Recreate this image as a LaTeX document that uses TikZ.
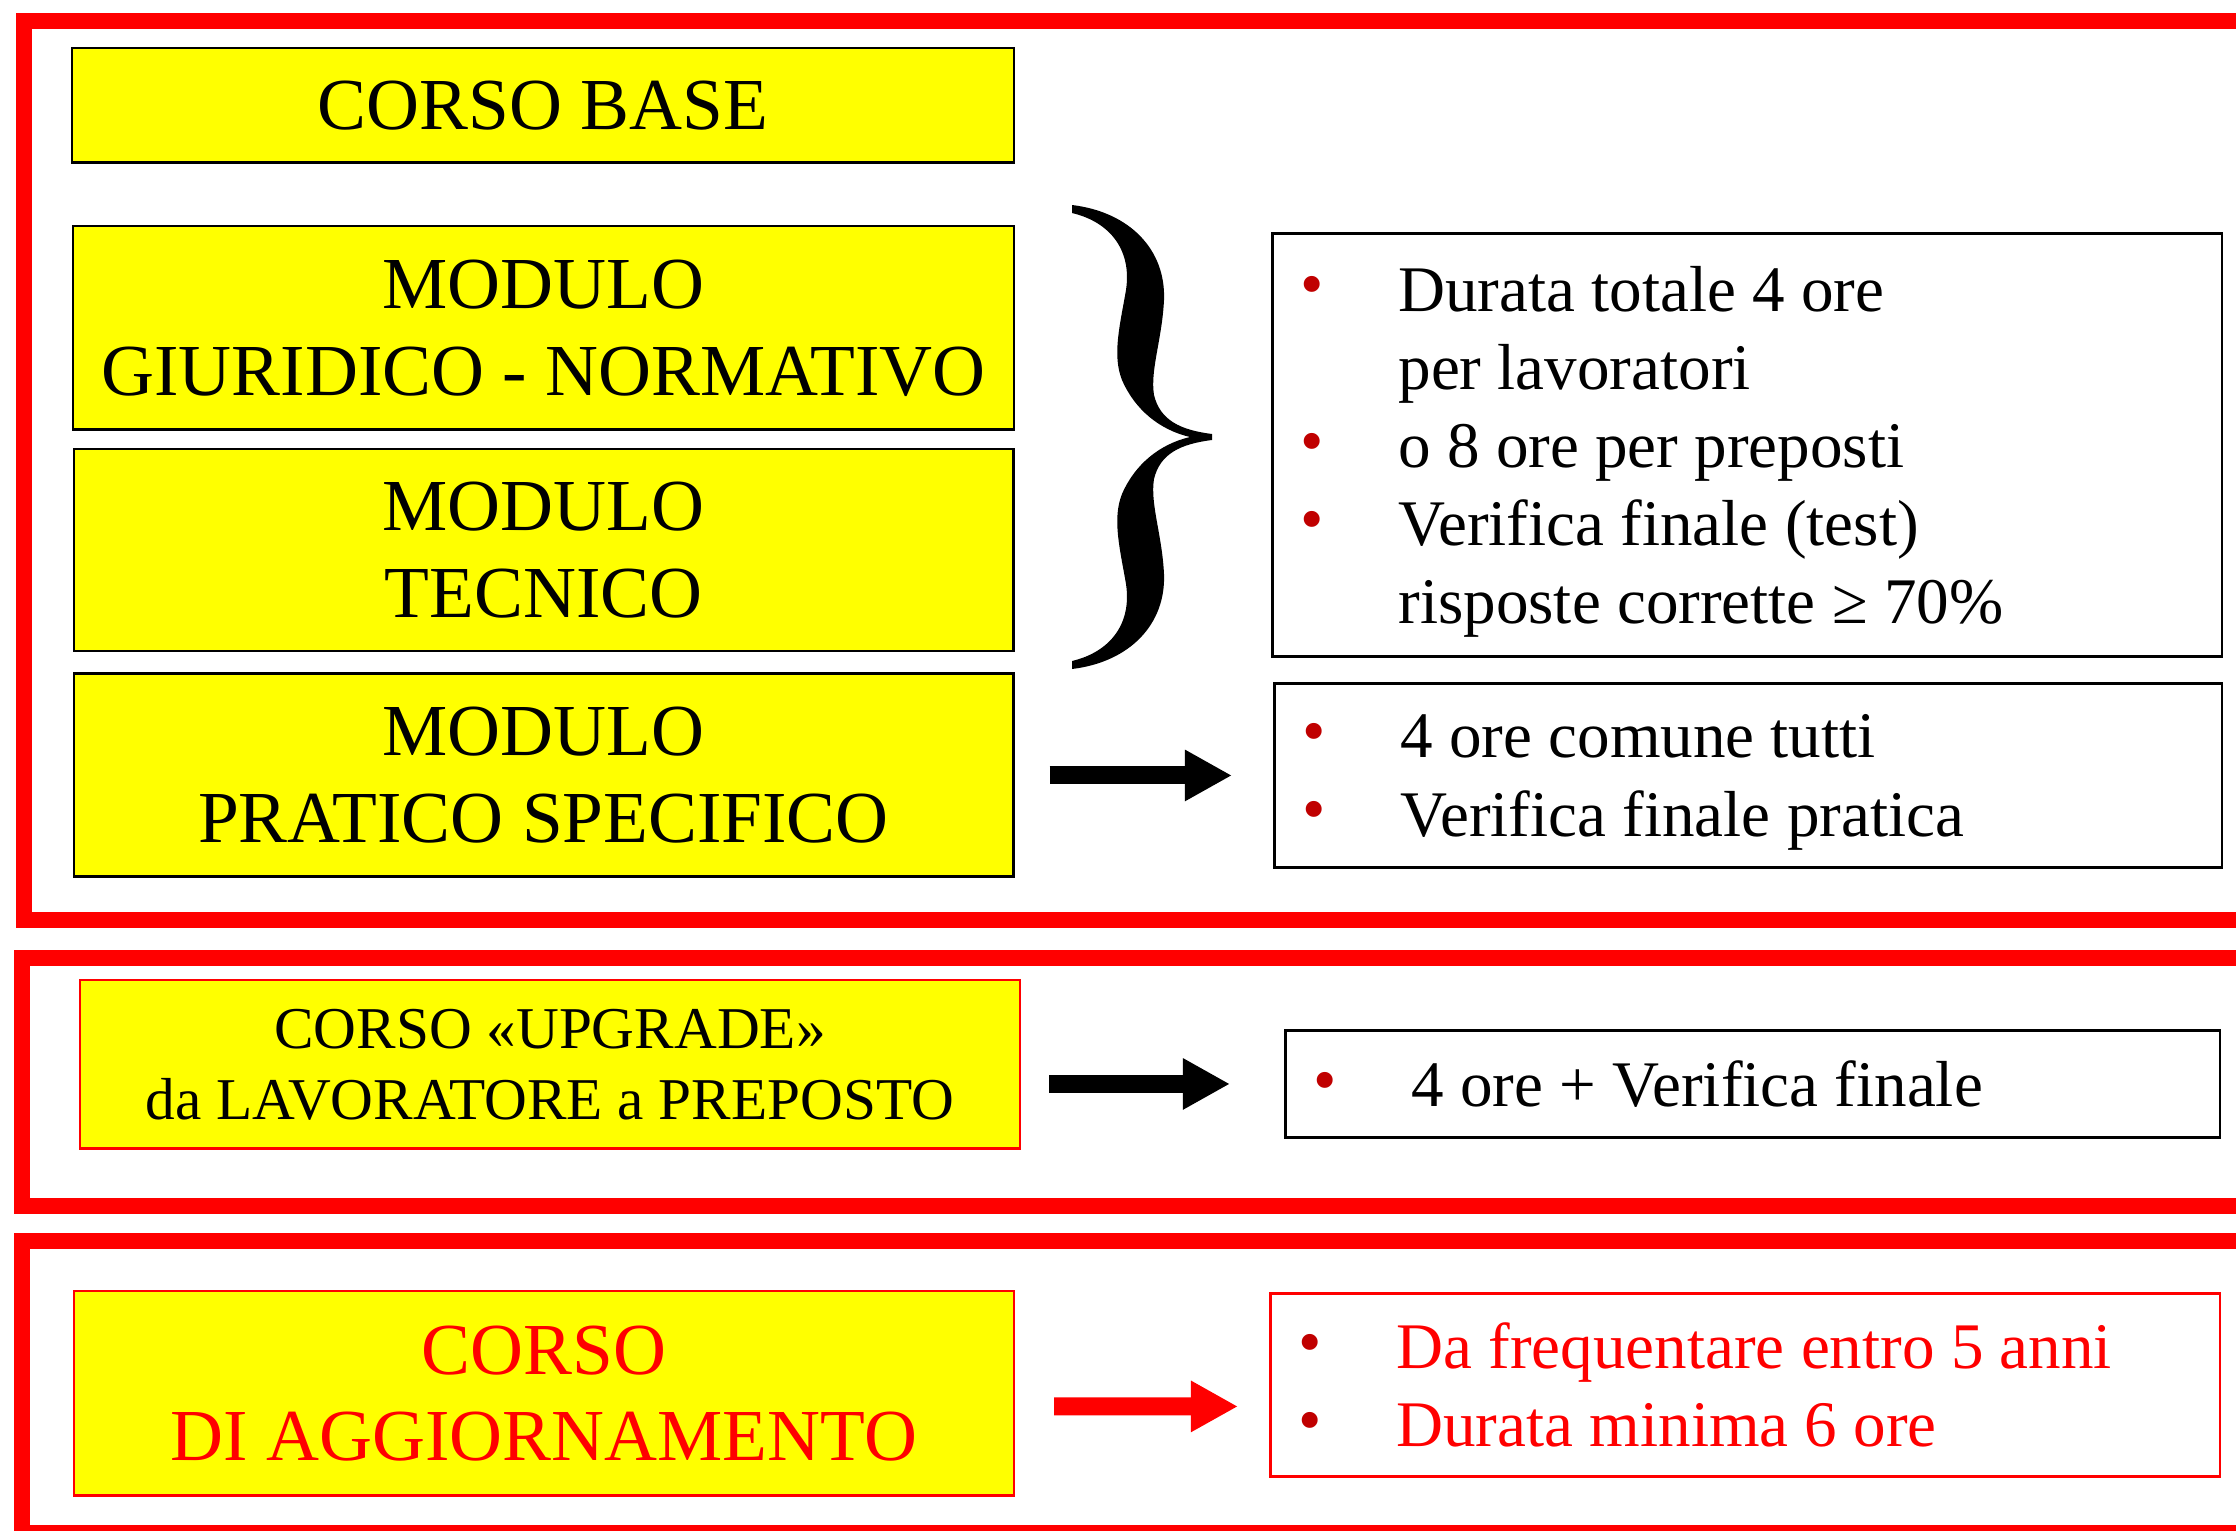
\documentclass[tikz,border=0pt]{standalone}
\usepackage{fontspec}
\setmainfont{Liberation Serif}
\usepackage{tikz}
\usetikzlibrary{positioning, calc, arrows.meta}

\definecolor{boxyellow}{RGB}{255,255,0}
\definecolor{framered}{RGB}{255,0,0}
\definecolor{dotred}{RGB}{192,0,0}

\newcommand{\dotitem}{\makebox[0.98cm][l]{\raisebox{0.045cm}{\textcolor{dotred}{\fontsize{19}{19}\selectfont •}}}}
\newcommand{\noitem}{\hspace*{0.98cm}}

\begin{document}
\begin{tikzpicture}[x=0.01cm,y=-0.01cm,
    frame_line/.style={draw=framered, line width=0.16cm},
    yellow_box/.style={draw=black, fill=boxyellow, line width=0.7pt, anchor=north west,
      align=center, inner sep=0pt, text depth=0pt, font=\fontsize{20.85}{24.6}\selectfont},
    list_box/.style={draw=black, line width=0.8pt, anchor=north west, align=flush left,
      inner xsep=0.28cm, inner ysep=0pt, font=\fontsize{18.5}{22.2}\selectfont},
    block_arrow/.style={line width=0.18cm, -{Triangle[length=0.47cm,width=0.48cm]}}]
      \useasboundingbox (0,0) rectangle (2236,1530);
      \clip (0,0) rectangle (2236,1530);

      % red frames
      \draw[frame_line] (24,21) rectangle (2300,920);
      \draw[frame_line] (22,958) rectangle (2300,1206);
      \draw[frame_line] (22,1241) rectangle (2300,1533);

      % corso base
      \node[yellow_box, minimum width=9.41cm, minimum height=1.14cm] (corso_base) at (71,47) {CORSO BASE};
      \node[yellow_box, minimum width=9.40cm, minimum height=2.03cm] (modulo_giur) at (72,225) {MODULO\\GIURIDICO - NORMATIVO};
      \node[yellow_box, minimum width=9.39cm, minimum height=2.02cm, below=0.17cm of modulo_giur] (modulo_tec) {MODULO\\TECNICO};
      \node[yellow_box, minimum width=9.39cm, minimum height=2.03cm, below=0.2cm of modulo_tec] (modulo_prat) {MODULO\\PRATICO SPECIFICO};

      \fill (1072,205) .. controls (1130,212) and (1166,250) .. (1164,300)
        .. controls (1162,340) and (1150,370) .. (1154,395)
        .. controls (1160,420) and (1180,430) .. (1212,434)
        -- (1212,440)
        .. controls (1180,444) and (1160,454) .. (1154,479)
        .. controls (1150,504) and (1162,534) .. (1164,574)
        .. controls (1166,624) and (1130,662) .. (1072,669)
        -- (1072,661)
        .. controls (1110,652) and (1132,624) .. (1126,584)
        .. controls (1120,549) and (1112,519) .. (1122,494)
        .. controls (1135,464) and (1160,444) .. (1190,437)
        .. controls (1160,430) and (1135,410) .. (1122,380)
        .. controls (1112,355) and (1120,325) .. (1126,290)
        .. controls (1132,250) and (1110,222) .. (1072,213) -- cycle;

      \node[list_box, text width=8.93cm, minimum height=4.23cm, text depth=88.8pt] (info_base) at (1271,232)
        {\dotitem Durata totale 4 ore\\
         \noitem per lavoratori\\
         \dotitem o 8 ore per preposti\\
         \dotitem Verifica finale (test)\\
         \noitem risposte corrette ≥ 70\%};
      \node[list_box, text width=8.91cm, minimum height=1.84cm, text depth=22.2pt] (info_prat) at (1273,682)
        {\dotitem 4 ore comune tutti\\
         \dotitem Verifica finale pratica};
      \draw[block_arrow, shorten <=0.35cm, shorten >=0.41cm] (modulo_prat.east |- info_prat.west) -- (info_prat.west);

      % upgrade
      \node[yellow_box, draw=framered, minimum width=9.39cm, minimum height=1.68cm,
        font=\fontsize{16.85}{20.2}\selectfont] (corso_upgrade) at (79,979)
        {CORSO «UPGRADE»\\da LAVORATORE a PREPOSTO};
      \node[list_box, text width=8.78cm, minimum height=1.07cm, text depth=0pt] (info_upgrade) at (1284,1029)
        {\dotitem 4 ore + Verifica finale};
      \draw[block_arrow, shorten <=0.28cm, shorten >=0.54cm] (corso_upgrade.east |- info_upgrade.west) -- (info_upgrade.west);

      % aggiornamento
      \node[yellow_box, draw=framered, text=framered, minimum width=9.39cm, minimum height=2.04cm] (corso_agg) at (73,1290)
        {CORSO\\DI AGGIORNAMENTO};
      \node[list_box, draw=framered, text=framered, text width=8.93cm, minimum height=1.83cm, text depth=22.2pt] (info_agg) at (1269,1292)
        {\dotitem Da frequentare entro 5 anni\\
         \dotitem Durata minima 6 ore};
      \draw[block_arrow, framered, shorten <=0.39cm, shorten >=0.31cm]
        ($(corso_agg.east)+(0,13)$) -- ($(info_agg.west)+(0,21.5)$);
\end{tikzpicture}
\end{document}
